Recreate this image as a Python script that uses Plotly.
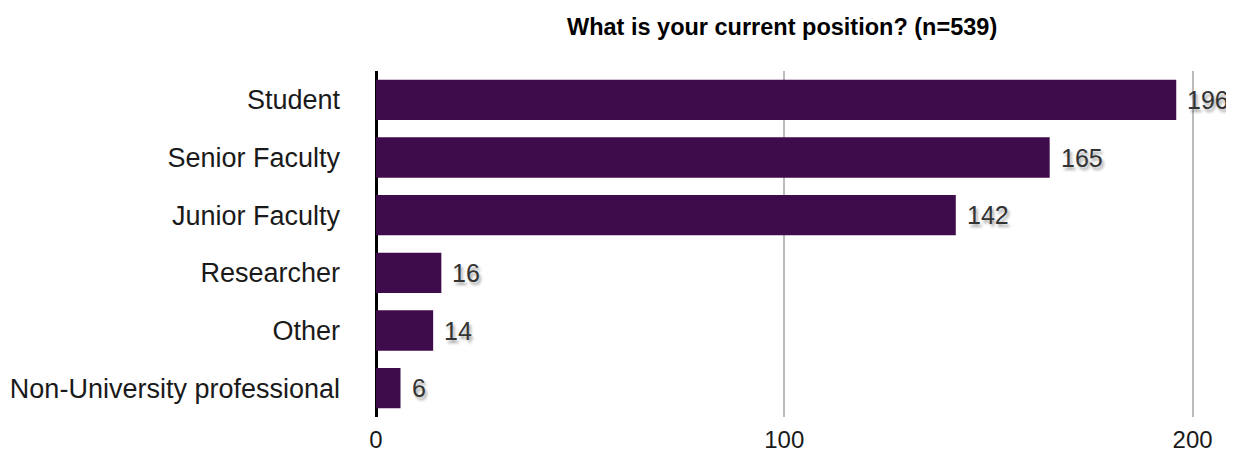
import plotly.graph_objects as go

categories = ["Student", "Senior Faculty", "Junior Faculty", "Researcher", "Other", "Non-University professional"]
counts = [196, 165, 142, 16, 14, 6]
x_ticks = [0, 100, 200]
title_text = "What is your current position? (n=539)"

BAR_COLOR = "#3e0c4b"
FONT = "Liberation Sans, Arial, Helvetica, sans-serif"

# page body has an 8px margin; figure is sized to fill the remaining window
W, H = 1226, 446
M_L, M_R, M_T, M_B = 368, 21, 63, 37
PLOT_H = H - M_T - M_B

fig = go.Figure()
fig.add_trace(go.Bar(
    x=counts,
    y=categories,
    orientation="h",
    marker=dict(color=BAR_COLOR, line=dict(width=0)),
    hoverinfo="x+y",
))

annotations = []
for c, v in zip(categories, counts):
    annotations.append(dict(
        x=v, y=c, xref="x", yref="y", text=str(v), showarrow=False,
        xanchor="left", yanchor="middle", xshift=9,
        font=dict(family=FONT, size=25, color="#333333",
                  shadow="2px 3px 3px rgba(0,0,0,0.35)"),
    ))
annotations.append(dict(
    x=0.485, y=1 + (M_T - 19) / PLOT_H, xref="paper", yref="paper",
    text="<b>" + title_text + "</b>",
    showarrow=False, xanchor="center", yanchor="middle",
    font=dict(family=FONT, size=23.5, color="#000000"),
))

fig.update_layout(
    width=W, height=H,
    margin=dict(l=M_L, r=M_R, t=M_T, b=M_B, autoexpand=False),
    paper_bgcolor="white", plot_bgcolor="white",
    showlegend=False,
    bargap=0.30,
    font=dict(family=FONT, size=24, color="#1a1a1a"),
    annotations=annotations,
    xaxis=dict(
        range=[0, 205],
        tickvals=x_ticks,
        ticktext=[str(t) for t in x_ticks],
        showgrid=True, gridcolor="#bcbcbc", gridwidth=2,
        zeroline=True, zerolinecolor="#000000", zerolinewidth=2.5,
        showline=False, ticks="",
        ticklabelstandoff=6,
        tickfont=dict(size=24, color="#1a1a1a"),
        automargin=False,
        fixedrange=True,
    ),
    yaxis=dict(
        categoryorder="array", categoryarray=categories,
        autorange="reversed",
        showgrid=False, zeroline=False, showline=False, ticks="",
        ticklabelstandoff=35,
        tickfont=dict(size=27, color="#1a1a1a"),
        automargin=False,
        fixedrange=True,
    ),
)

fig.write_html("out.html")
